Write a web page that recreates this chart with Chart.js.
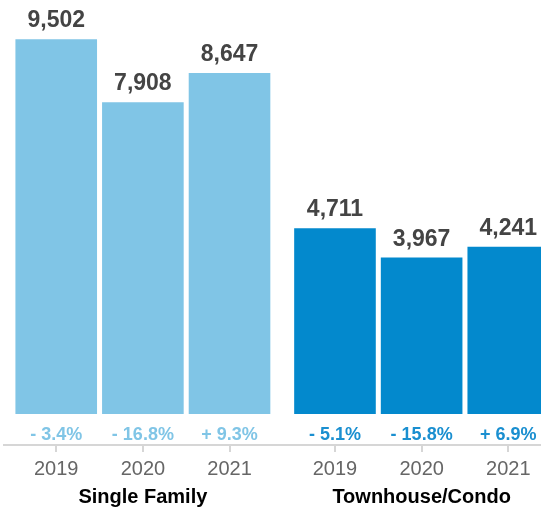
<!DOCTYPE html>
<html>
<head>
<meta charset="utf-8">
<script src="https://cdn.jsdelivr.net/npm/chart.js@4"></script>
<style>
  html, body { margin: 0; padding: 0; background: #fff; overflow: hidden; }
  #wrap { width: 561px; height: 512px; }
</style>
</head>
<body>
<div id="wrap"><canvas id="c" width="561" height="512"></canvas></div>
<script>
const groups = ['Single Family', 'Townhouse/Condo'];
const years = ['2019', '2020', '2021'];
const values2019 = [9502, 4711];
const values2020 = [7908, 3967];
const values2021 = [8647, 4241];
const change2019 = ['- 3.4%', '- 5.1%'];
const change2020 = ['- 16.8%', '- 15.8%'];
const change2021 = ['+ 9.3%', '+ 6.9%'];

const groupColors = ['#80c5e6', '#0389cd'];
const changeColors = ['#80c5e6', '#1a8fd0'];
const CAT_PCT = 0.9325;
const BAR_PCT = 0.942;
const FONT = '"Liberation Sans", Arial, Helvetica, sans-serif';

const seriesValues = [values2019, values2020, values2021];
const seriesChanges = [change2019, change2020, change2021];

const datasets = years.map((yr, i) => ({
  label: yr,
  data: seriesValues[i],
  changes: seriesChanges[i],
  backgroundColor: groupColors,
  borderWidth: 0,
  categoryPercentage: CAT_PCT,
  barPercentage: BAR_PCT,
  xAxisID: 'x',
  yAxisID: 'y'
}));

const labelPlugin = {
  id: 'barLabels',
  afterDatasetsDraw(chart) {
    const ctx = chart.ctx;
    const base = chart.scales.y.getPixelForValue(0);
    ctx.save();
    ctx.textAlign = 'center';
    ctx.textBaseline = 'alphabetic';
    chart.data.datasets.forEach((ds, i) => {
      const meta = chart.getDatasetMeta(i);
      meta.data.forEach((el, j) => {
        ctx.fillStyle = '#444444';
        ctx.font = 'bold 23px ' + FONT;
        ctx.fillText(ds.data[j].toLocaleString('en-US'), el.x, el.y - 12);
        ctx.fillStyle = changeColors[j];
        ctx.font = 'bold 18px ' + FONT;
        ctx.fillText(ds.changes[j], el.x, base + 25.5);
      });
    });
    ctx.restore();
  }
};

new Chart(document.getElementById('c'), {
  type: 'bar',
  data: { labels: groups, datasets: datasets },
  options: {
    responsive: false,
    animation: false,
    devicePixelRatio: 1,
    layout: { padding: { left: 3.5, right: 0, top: 0, bottom: 0 } },
    plugins: { legend: { display: false }, tooltip: { enabled: false } },
    scales: {
      y: { display: false, min: -786, max: 10500 },
      x: { type: 'category', display: false, offset: true },
      xYears: {
        type: 'category',
        position: 'bottom',
        offset: true,
        grid: { display: true, drawOnChartArea: false, offset: false, tickLength: 7, color: '#d6d6d6', lineWidth: 2 },
        border: { display: true, color: '#d6d6d6', width: 2 },
        afterBuildTicks(scale) {
          const n = years.length;
          const slot = CAT_PCT / n;
          const ticks = [];
          groups.forEach((g, gi) => {
            years.forEach((y, yi) => {
              ticks.push({ value: gi + (yi - (n - 1) / 2) * slot });
            });
          });
          scale.ticks = ticks;
        },
        afterFit(scale) { scale.height = 36; },
        ticks: {
          autoSkip: false,
          maxRotation: 0,
          padding: 5,
          color: '#666666',
          font: { family: FONT, size: 20 },
          callback: (v, idx) => years[idx % years.length]
        }
      },
      x2: {
        type: 'category',
        position: 'bottom',
        offset: true,
        grid: { display: false, drawTicks: false, tickLength: 0 },
        border: { display: false },
        afterFit(scale) { scale.height = 31; },
        ticks: {
          padding: 4,
          color: '#000000',
          font: { family: FONT, size: 20, weight: 'bold' }
        }
      }
    }
  },
  plugins: [labelPlugin]
});
</script>
</body>
</html>
